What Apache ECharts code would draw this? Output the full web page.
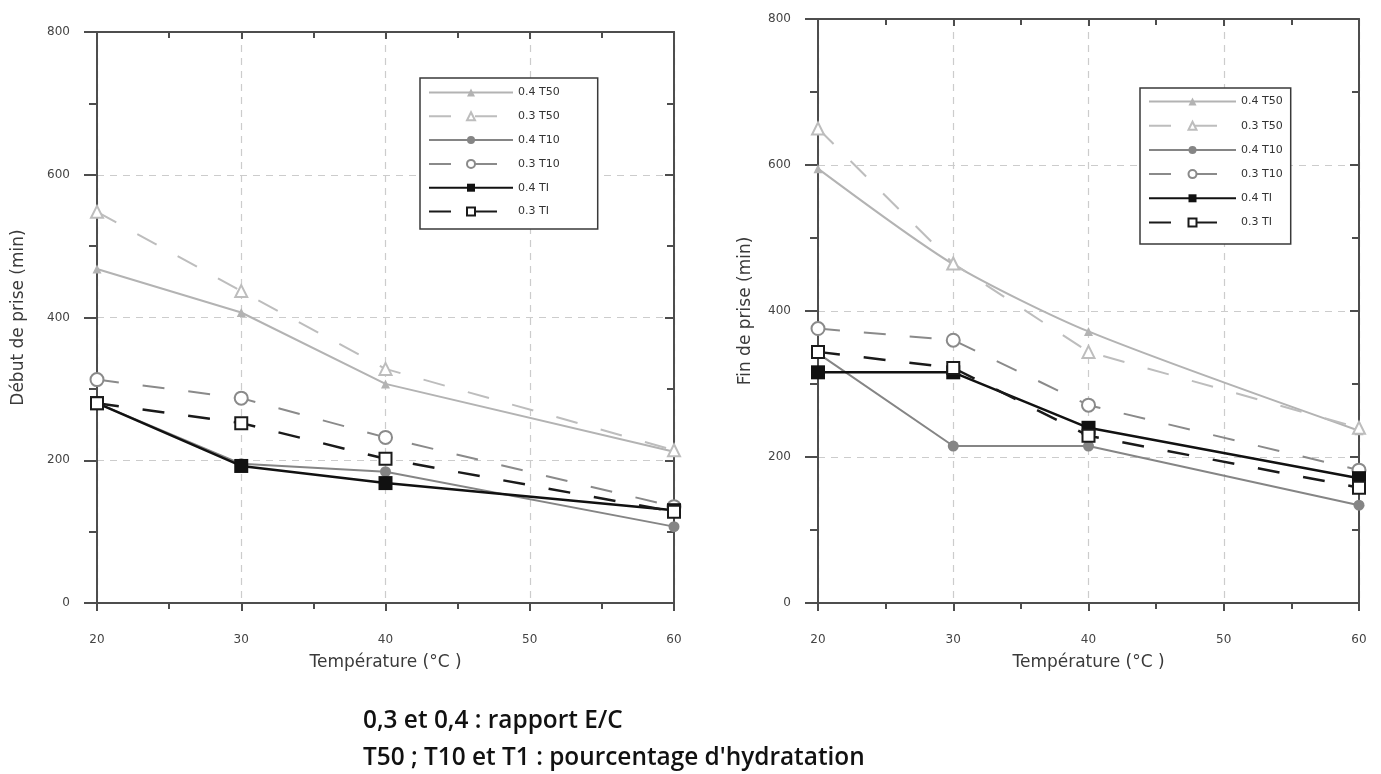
<!DOCTYPE html>
<html>
<head>
<meta charset="utf-8">
<script src="https://cdn.jsdelivr.net/npm/echarts@6/dist/echarts.min.js"></script>
<style>
html,body{margin:0;padding:0;background:#fff;}
#chart{width:1381px;height:774px;}
</style>
</head>
<body>
<div id="chart"></div>
<script>
// ---- data ----
const temps = [20, 30, 40, 60];
const seriesNames = ['0.4 T50', '0.3 T50', '0.4 T10', '0.3 T10', '0.4 TI', '0.3 TI'];
// Début de prise (min)
const debut04T50 = [468, 407, 307, 212];
const debut03T50 = [548, 437, 328, 214];
const debut04T10 = [280, 195, 184, 107];
const debut03T10 = [313, 287, 232, 135];
const debut04TI  = [280, 192, 168, 130];
const debut03TI  = [280, 252, 202, 128];
// Fin de prise (min)
const fin04T50 = [595, 464, 372, 236];
const fin03T50 = [650, 465, 344, 240];
const fin04T10 = [342, 215, 215, 134];
const fin03T10 = [376, 360, 271, 182];
const fin04TI  = [316, 316, 240, 171];
const fin03TI  = [344, 322, 229, 158];
const xTicks = [20, 30, 40, 50, 60];
const yTicks = [0, 200, 400, 600, 800];
const yNames = ['Début de prise (min)', 'Fin de prise (min)'];
const xName = 'Température (°C )';
const noteLines = ['0,3 et 0,4 : rapport E/C', "T50 ; T10 et T1 : pourcentage d'hydratation"];

// ---- styles ----
const styles = [
  {color: '#b3b3b3', dash: 'solid', symbol: 'triangle', size: 9, width: 2},
  {color: '#bdbdbd', dash: [22, 24], symbol: 'emptyTriangle', size: 12, width: 2},
  {color: '#858585', dash: 'solid', symbol: 'circle', size: 11, width: 2},
  {color: '#8a8a8a', dash: [22, 24], symbol: 'emptyCircle', size: 13, width: 2},
  {color: '#111111', dash: 'solid', symbol: 'rect', size: 14, width: 2.5},
  {color: '#1a1a1a', dash: [22, 24], symbol: 'emptyRect', size: 12, width: 2.5}
];
const debutData = [debut04T50, debut03T50, debut04T10, debut03T10, debut04TI, debut03TI];
const finData = [fin04T50, fin03T50, fin04T10, fin03T10, fin04TI, fin03TI];

const font = 'DejaVu Sans';
const frameColor = '#4d4d4d';
const grids = [
  {left: 97, top: 32, width: 577, height: 571},
  {left: 818, top: 19, width: 541, height: 584}
];

function pair(arr) { return temps.map((t, i) => [t, arr[i]]); }

const xAxis = [], yAxis = [], series = [];
grids.forEach((g, gi) => {
  xAxis.push({
    gridIndex: gi, type: 'value', min: 20, max: 60, interval: 10, position: 'bottom',
    name: xName, nameLocation: 'middle', nameGap: 51,
    nameTextStyle: {fontFamily: font, fontSize: 17, color: '#3a3a3a'},
    axisLine: {show: true, onZero: false, lineStyle: {color: frameColor, width: 2}},
    axisTick: {show: true, inside: false, length: 8, lineStyle: {color: frameColor, width: 2}},
    minorTick: {show: true, splitNumber: 2, length: 6, lineStyle: {color: frameColor, width: 2}},
    axisLabel: {fontFamily: font, fontSize: 12, color: '#444', margin: 31,
      formatter: v => xTicks.indexOf(v) >= 0 ? String(v) : ''},
    splitLine: {show: true, lineStyle: {color: '#cccccc', width: 1.2, type: [7, 6]}}
  });
  xAxis.push({
    gridIndex: gi, type: 'value', min: 20, max: 60, interval: 10, position: 'top',
    axisLine: {show: true, onZero: false, lineStyle: {color: frameColor, width: 2}},
    axisTick: {show: true, inside: true, length: 7, lineStyle: {color: frameColor, width: 2}},
    minorTick: {show: true, splitNumber: 2, length: 6, lineStyle: {color: frameColor, width: 2}},
    axisLabel: {show: false}, splitLine: {show: false}
  });
  yAxis.push({
    gridIndex: gi, type: 'value', min: 0, max: 800, interval: 200, position: 'left',
    name: yNames[gi], nameLocation: 'middle', nameGap: gi === 0 ? 70 : 64,
    nameTextStyle: {fontFamily: font, fontSize: 17, color: '#3a3a3a'},
    axisLine: {show: true, onZero: false, lineStyle: {color: frameColor, width: 2}},
    axisTick: {show: true, inside: false, length: 13, lineStyle: {color: frameColor, width: 2}},
    minorTick: {show: true, splitNumber: 2, length: 8, lineStyle: {color: frameColor, width: 2}},
    axisLabel: {fontFamily: font, fontSize: 12, color: '#444', margin: 27,
      formatter: v => yTicks.indexOf(v) >= 0 ? String(v) : ''},
    splitLine: {show: true, lineStyle: {color: '#cccccc', width: 1.2, type: [7, 6]}}
  });
  yAxis.push({
    gridIndex: gi, type: 'value', min: 0, max: 800, interval: 200, position: 'right',
    axisLine: {show: true, onZero: false, lineStyle: {color: frameColor, width: 2}},
    axisTick: {show: true, inside: true, length: 9, lineStyle: {color: frameColor, width: 2}},
    minorTick: {show: true, splitNumber: 2, length: 7, lineStyle: {color: frameColor, width: 2}},
    axisLabel: {show: false}, splitLine: {show: false}
  });
  const dataSets = gi === 0 ? debutData : finData;
  seriesNames.forEach((name, si) => {
    const s = styles[si];
    series.push({
      name: name, type: 'line', xAxisIndex: gi * 2, yAxisIndex: gi * 2,
      data: pair(dataSets[si]),
      smooth: (gi === 1 && si === 0) ? 0.25 : false,
      symbol: s.symbol, symbolSize: s.size, showSymbol: true,
      lineStyle: {color: s.color, width: s.width, type: s.dash},
      itemStyle: {color: s.color, borderWidth: 1.5},
      z: 2 + si, animation: false
    });
  });
});

const legendBase = {
  orient: 'vertical', itemHeight: 10,
  borderColor: '#3a3a3a', borderWidth: 1.5, backgroundColor: '#fff',
  textStyle: {fontFamily: font, fontSize: 11, color: '#333'},
  data: seriesNames, selectedMode: false
};

const option = {
  backgroundColor: '#fff',
  animation: false,
  grid: grids.map(g => Object.assign({containLabel: false}, g)),
  xAxis, yAxis, series,
  legend: [
    Object.assign({}, legendBase, {left: 420, top: 78, itemGap: 12.8, itemWidth: 84, padding: [9, 38, 12, 8]}),
    Object.assign({}, legendBase, {left: 1140, top: 88, itemGap: 13.2, itemWidth: 87, padding: [8, 8, 16, 8]})
  ],
  graphic: [
    {type: 'text', left: 363, top: 709, style: {text: noteLines[0], font: '600 24.4px "Open Sans"', fill: '#111'}},
    {type: 'text', left: 363, top: 746, style: {text: noteLines[1], font: '600 24.4px "Open Sans"', fill: '#111'}}
  ]
};
const chart = echarts.init(document.getElementById('chart'), null, {renderer: 'canvas'});
chart.setOption(option);
</script>
</body>
</html>
